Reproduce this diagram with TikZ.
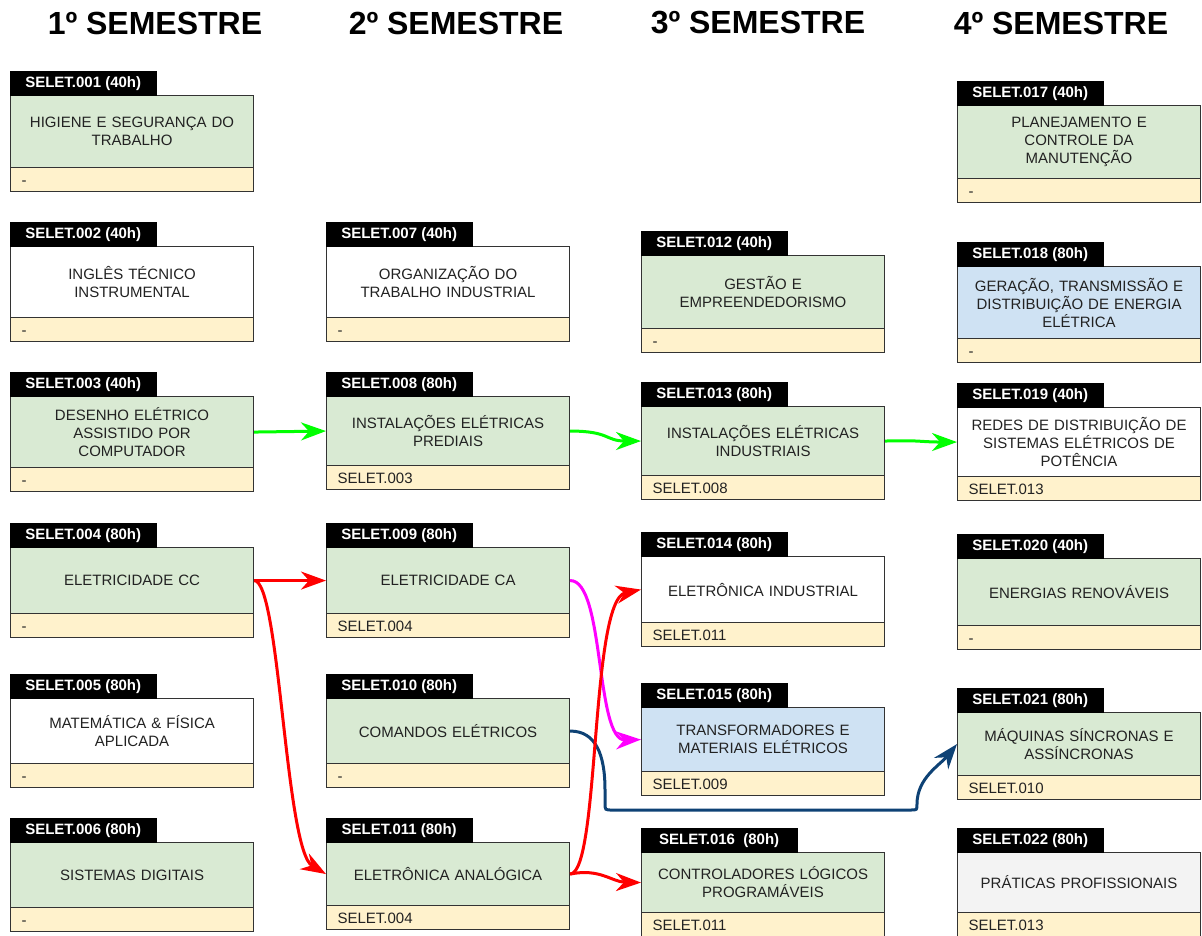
\documentclass[tikz,border=0pt]{standalone}
\usepackage{fontspec}
\setmainfont{Liberation Sans}
\usetikzlibrary{arrows.meta}
\definecolor{cgreen}{HTML}{D9EAD3}
\definecolor{cyellow}{HTML}{FFF2CC}
\definecolor{cblue}{HTML}{CFE2F3}
\definecolor{cgray}{HTML}{F3F3F3}
\definecolor{cborder}{HTML}{333333}
\definecolor{ctext}{HTML}{222222}
\definecolor{agreen}{HTML}{00FF00}
\definecolor{ared}{HTML}{FF0000}
\definecolor{amag}{HTML}{FF00FF}
\definecolor{anavy}{HTML}{0E4275}
\tikzset{
  semhead/.style={font=\fontsize{32}{36}\selectfont\bfseries, text=black, inner sep=0pt},
  tabbox/.style={anchor=north west, fill=black, draw=black, text=white, minimum height=24pt, inner sep=0pt, font=\fontsize{15}{16}\selectfont\bfseries},
  bodybox/.style={anchor=north west, draw=cborder, line width=1.1pt, text=ctext, text width=225pt, inner xsep=9pt, inner ysep=0pt, align=center, font=\fontsize{15}{18}\selectfont},
  footbox/.style={anchor=north west, draw=cborder, line width=1.1pt, fill=cyellow, text=ctext, text width=221pt, text height=12pt, text depth=0pt, inner xsep=11pt, inner ysep=0pt, minimum height=24pt, align=left, font=\fontsize{15}{18}\selectfont},
  conn/.style={line width=3pt, -{Stealth[length=25pt,width=18pt,inset=8pt]}},
}
% #1 id, #2 x, #3 tab top, #4 body height, #5 fill, #6 tab text, #7 body text, #8 footer, #9 tab width
\newcommand{\coursebox}[9]{%
  \node[bodybox, fill=#5, minimum height=#4pt] (b#1) at ({#2},{#3+24}) {#7};
  \node[footbox] (f#1) at ({#2},{#3+24+#4}) {#8};
  \node[tabbox, minimum width=#9pt] (t#1) at ({#2},{#3}) {#6};
}
\begin{document}
\begin{tikzpicture}[x=1pt,y=-1pt]
\useasboundingbox (0,0) rectangle (1202,935);

\node[semhead] (h1) at (155,23) {1º SEMESTRE};
\node[semhead] (h2) at (456,23) {2º SEMESTRE};
\node[semhead] (h3) at (758,23) {3º SEMESTRE};
\node[semhead] (h4) at (1061,23) {4º SEMESTRE};

% column 1
\coursebox{1}{10}{71}{72}{cgreen}{SELET.001 (40h)}{HIGIENE E SEGURANÇA DO\\TRABALHO}{-}{146}
\coursebox{2}{10}{222}{71}{white}{SELET.002 (40h)}{INGLÊS TÉCNICO\\INSTRUMENTAL}{-}{146}
\coursebox{3}{10}{372}{71}{cgreen}{SELET.003 (40h)}{DESENHO ELÉTRICO\\ASSISTIDO POR\\COMPUTADOR}{-}{146}
\coursebox{4}{10}{523}{66}{cgreen}{SELET.004 (80h)}{ELETRICIDADE CC}{-}{146}
\coursebox{5}{10}{674}{65}{white}{SELET.005 (80h)}{MATEMÁTICA \& FÍSICA\\APLICADA}{-}{146}
\coursebox{6}{10}{818}{65}{cgreen}{SELET.006 (80h)}{SISTEMAS DIGITAIS}{-}{146}

% column 2
\coursebox{7}{326}{222}{71}{white}{SELET.007 (40h)}{ORGANIZAÇÃO DO\\TRABALHO INDUSTRIAL}{-}{146}
\coursebox{8}{326}{372}{69}{cgreen}{SELET.008 (80h)}{INSTALAÇÕES ELÉTRICAS\\PREDIAIS}{SELET.003}{146}
\coursebox{9}{326}{523}{66}{cgreen}{SELET.009 (80h)}{ELETRICIDADE CA}{SELET.004}{146}
\coursebox{10}{326}{674}{65}{cgreen}{SELET.010 (80h)}{COMANDOS ELÉTRICOS}{-}{146}
\coursebox{11}{326}{818}{63}{cgreen}{SELET.011 (80h)}{ELETRÔNICA ANALÓGICA}{SELET.004}{146}

% column 3
\coursebox{12}{641}{231}{73}{cgreen}{SELET.012 (40h)}{GESTÃO E\\EMPREENDEDORISMO}{-}{146}
\coursebox{13}{641}{382}{69}{cgreen}{SELET.013 (80h)}{INSTALAÇÕES ELÉTRICAS\\INDUSTRIAIS}{SELET.008}{146}
\coursebox{14}{641}{532}{66}{white}{SELET.014 (80h)}{ELETRÔNICA INDUSTRIAL}{SELET.011}{146}
\coursebox{15}{641}{683}{64}{cblue}{SELET.015 (80h)}{TRANSFORMADORES E\\MATERIAIS ELÉTRICOS}{SELET.009}{146}
\coursebox{16}{641}{828}{60}{cgreen}{SELET.016\ \ (80h)}{CONTROLADORES LÓGICOS\\PROGRAMÁVEIS}{SELET.011}{156}

% column 4
\coursebox{17}{957}{81}{73}{cgreen}{SELET.017 (40h)}{PLANEJAMENTO E\\CONTROLE DA\\MANUTENÇÃO}{-}{146}
\coursebox{18}{957}{242}{72}{cblue}{SELET.018 (80h)}{GERAÇÃO, TRANSMISSÃO E\\DISTRIBUIÇÃO DE ENERGIA\\ELÉTRICA}{-}{146}
\coursebox{19}{957}{383}{69}{white}{SELET.019 (40h)}{REDES DE DISTRIBUIÇÃO DE\\SISTEMAS ELÉTRICOS DE\\POTÊNCIA}{SELET.013}{146}
\coursebox{20}{957}{534}{67}{cgreen}{SELET.020 (40h)}{ENERGIAS RENOVÁVEIS}{-}{146}
\coursebox{21}{957}{688}{63}{cgreen}{SELET.021 (80h)}{MÁQUINAS SÍNCRONAS E\\ASSÍNCRONAS}{SELET.010}{146}
\coursebox{22}{957}{828}{60}{cgray}{SELET.022 (80h)}{PRÁTICAS PROFISSIONAIS}{SELET.013}{146}

% green chain
\draw[conn, agreen] (b3.east) -- (b8.west);
\draw[conn, agreen] (b8.east) .. controls (610,431) and (605,441) .. (b13.west);
\draw[conn, agreen] (b13.east) .. controls (920,440) and (920,442) .. (b19.west);

% magenta
\draw[conn, amag] (b9.east) .. controls (605,580) and (595,741) .. (b15.west);

% navy
\draw[conn, anavy] (b10.east) .. controls (596,731) and (605,755) .. (605,790) -- (605,803) .. controls (605,810) .. (612,810) -- (911,810) .. controls (917,810) .. (917,804) .. controls (917,778) and (940,765) .. (b21.west);

% red
\draw[conn, ared] (b4.east) -- (b9.west);
\draw[conn, ared] (b4.east) .. controls (280,580) and (285,850) .. (b11.west);
\draw[conn, ared] (b11.east) .. controls (600,873) and (590,600) .. (b14.west);
\draw[conn, ared] (b11.east) .. controls (600,868) and (612,882) .. (b16.west);
\end{tikzpicture}
\end{document}
